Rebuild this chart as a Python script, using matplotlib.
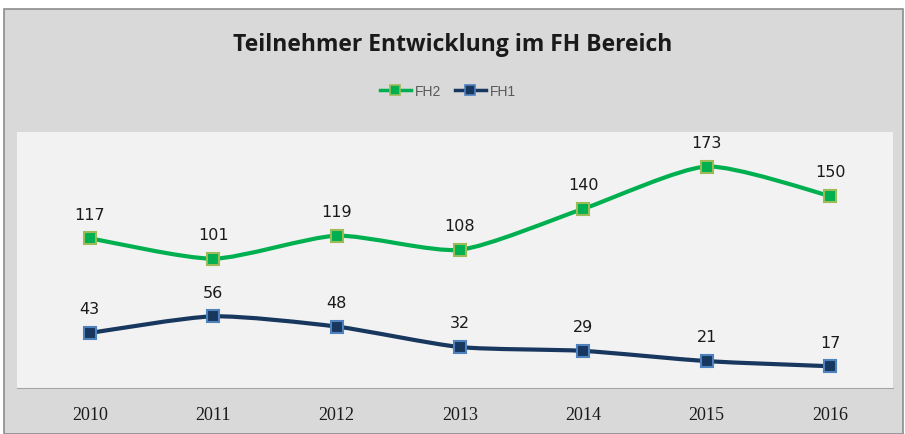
import matplotlib
matplotlib.use("Agg")
import matplotlib.pyplot as plt
from matplotlib.path import Path
from matplotlib.patches import PathPatch, Rectangle
from matplotlib.lines import Line2D

years = ["2010", "2011", "2012", "2013", "2014", "2015", "2016"]
fh2 = [117, 101, 119, 108, 140, 173, 150]
fh1 = [43, 56, 48, 32, 29, 21, 17]

W, H = 905, 435
fig = plt.figure(figsize=(W / 100, H / 100), dpi=100)
fig.patch.set_facecolor("white")

# grauer Diagrammbereich
fig.patches.append(Rectangle((4 / W, 0), 899 / W, 425 / H, transform=fig.transFigure,
                             facecolor="#d9d9d9", edgecolor="#8c8c8c", lw=1.2,
                             zorder=-5))

ax = fig.add_axes([17 / W, (H - 389) / H, (893 - 17) / W, (389 - 133) / H])
ax.set_facecolor("#f2f2f2")
ax.set_xlim(-0.59, 6.51)
ax.set_ylim(0, 200)
for s in ["top", "left", "right"]:
    ax.spines[s].set_visible(False)
ax.spines["bottom"].set_color("#a6a6a6")
ax.set_yticks([])
ax.set_xticks(range(len(years)))
ax.set_xticklabels(years, fontfamily="Liberation Serif", fontsize=13,
                   color="#1a1a1a")
ax.tick_params(axis="x", length=0, pad=13)


def smooth(ax, ys, color):
    # Excel-artig geglättete Linie (Catmull-Rom als Bezier)
    xs = list(range(len(ys)))
    pts = list(zip(xs, ys))
    verts = [pts[0]]
    codes = [Path.MOVETO]
    t = 1 / 9
    for i in range(len(pts) - 1):
        p0 = pts[i - 1] if i > 0 else pts[i]
        p1, p2 = pts[i], pts[i + 1]
        p3 = pts[i + 2] if i + 2 < len(pts) else pts[i + 1]
        c1 = (p1[0] + (p2[0] - p0[0]) * t, p1[1] + (p2[1] - p0[1]) * t)
        c2 = (p2[0] - (p3[0] - p1[0]) * t, p2[1] - (p3[1] - p1[1]) * t)
        verts += [c1, c2, p2]
        codes += [Path.CURVE4] * 3
    ax.add_patch(PathPatch(Path(verts, codes), facecolor="none", edgecolor=color,
                           lw=3, capstyle="round", zorder=2))


series = [
    ("FH2", fh2, "#00b050", "#9bbb59"),
    ("FH1", fh1, "#17375e", "#4f81bd"),
]
handles = []
for name, vals, col, edge in series:
    smooth(ax, vals, col)
    ax.plot(range(len(vals)), vals, ls="none", marker="s", ms=8, mfc=col,
            mec=edge, mew=1.5, zorder=3)
    for i, v in enumerate(vals):
        ax.annotate(str(v), (i, v), xytext=(0, 12), textcoords="offset points",
                    ha="center", va="bottom", fontsize=11.5,
                    fontfamily="DejaVu Sans", color="#1a1a1a")
    handles.append(Line2D([], [], color=col, lw=2.5, marker="s", ms=7, mfc=col,
                          mec=edge, mew=1.2, label=name))

fig.text(0.5, (H - 45) / H, "Teilnehmer Entwicklung im FH Bereich", ha="center",
         va="center", fontsize=16.5, fontweight="bold", fontfamily="Open Sans",
         color="#1a1a1a")
leg = fig.legend(handles=handles, loc="center", bbox_to_anchor=(0.495, (H - 92) / H),
                 ncol=2, frameon=False, handlelength=2.2,
                 columnspacing=1.0, handletextpad=0.3,
                 prop={"family": "Liberation Sans", "size": 10})
for t in leg.get_texts():
    t.set_color("#595959")

fig.savefig("out.png", dpi=100)
